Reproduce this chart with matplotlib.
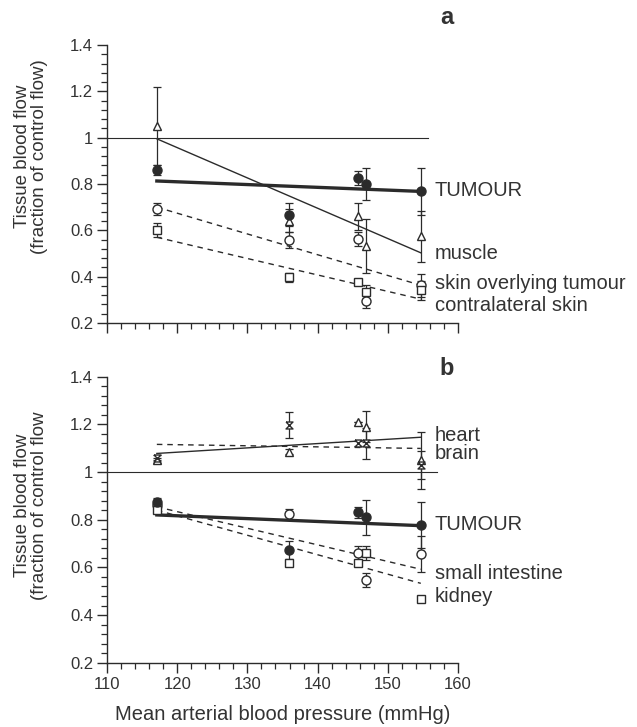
import matplotlib
matplotlib.use("Agg")
import matplotlib.pyplot as plt
from matplotlib.ticker import MultipleLocator

plt.rcParams['font.family'] = ['Liberation Sans', 'DejaVu Sans']

# ---------------- data ----------------
pressure = [117.1, 135.9, 145.75, 146.85, 154.7]

# panel a
tumour_a = [0.86, 0.668, 0.825, 0.80, 0.768]
tumour_a_err = [0.02, 0.05, 0.03, 0.07, 0.10]
muscle_a = [1.05, 0.642, 0.66, 0.532, 0.575]
muscle_a_err = [0.17, 0.05, 0.06, 0.115, 0.11]
skin_over = [0.692, 0.558, 0.564, 0.296, 0.362]
skin_over_err = [0.025, 0.035, 0.03, 0.03, 0.05]
skin_contra = [0.60, 0.397, 0.377, 0.332, 0.341]
skin_contra_err = [0.03, 0.02, 0.01, 0.03, 0.04]

fit_x = [117.1, 154.7]
fit_tumour_a = [0.813, 0.768]
fit_muscle_a = [0.995, 0.503]
fit_skin_over = [0.70, 0.363]
fit_skin_contra = [0.57, 0.303]

# panel b
heart_b = [1.05, 1.085, 1.211, 1.19, 1.05]
heart_b_err = [0.01, 0.01, 0.0, 0.065, 0.12]
brain_b = [1.06, 1.197, 1.12, 1.12, 1.03]
brain_b_err = [0.01, 0.056, 0.01, 0.065, 0.06]
tumour_b = [0.875, 0.673, 0.832, 0.81, 0.778]
tumour_b_err = [0.015, 0.036, 0.023, 0.073, 0.098]
intestine_b = [0.86, 0.825, 0.659, 0.547, 0.655]
intestine_b_err = [0.01, 0.02, 0.03, 0.03, 0.075]
kidney_b = [0.84, 0.618, 0.617, 0.659, 0.467]
kidney_b_err = [0.01, 0.01, 0.01, 0.03, 0.0]

fit_heart_b = [1.078, 1.146]
fit_brain_b = [1.116, 1.099]
fit_tumour_b = [0.82, 0.775]
fit_intestine_b = [0.854, 0.592]
fit_kidney_b = [0.84, 0.533]

ref_level = [1.0, 1.0]
ref_x_a = [110, 155.7]
ref_x_b = [110, 157]

yticks = [0.2, 0.4, 0.6, 0.8, 1.0, 1.2, 1.4]
ytick_labels = ['0.2', '0.4', '0.6', '0.8', '1', '1.2', '1.4']
xticks = [110, 120, 130, 140, 150, 160]
xtick_labels = ['110', '120', '130', '140', '150', '160']

# ---------------- drawing ----------------
INK = '#2b2b2b'
TXT = '#333333'
W, H = 637, 727
fig = plt.figure(figsize=(W / 100, H / 100), dpi=100)
fig.patch.set_facecolor('white')

ax_a = fig.add_axes([107 / W, 1 - 323 / H, 351 / W, 278 / H])
ax_b = fig.add_axes([107 / W, 1 - 662.7 / H, 351 / W, 286 / H])

hourglass = [(-1, 1), (1, 1), (-1, -1), (1, -1), (-1, 1)]

def style_axes(ax, show_xlabels):
    ax.set_xlim(110, 160)
    ax.set_ylim(0.2, 1.4)
    for s in ['top', 'right']:
        ax.spines[s].set_visible(False)
    for s in ['left', 'bottom']:
        ax.spines[s].set_color(INK)
        ax.spines[s].set_linewidth(1.0)
    ax.set_yticks(yticks)
    ax.set_yticklabels(ytick_labels)
    ax.set_xticks(xticks)
    ax.set_xticklabels(xtick_labels if show_xlabels else [])
    ax.xaxis.set_minor_locator(MultipleLocator(2))
    ax.yaxis.set_minor_locator(MultipleLocator(0.04))
    ax.tick_params(which='major', direction='out', length=7, width=1.0,
                   color=INK, labelcolor=TXT, labelsize=12, pad=3)
    ax.tick_params(which='minor', direction='out', length=4, width=0.9, color=INK)
    ax.set_facecolor('none')

def eb(ax, y, err, marker, filled, ms=6.5):
    ax.errorbar(pressure, y, yerr=err, fmt='none', ecolor=INK,
                elinewidth=0.9, capsize=3, capthick=0.9, zorder=3)
    ax.plot(pressure, y, linestyle='none', marker=marker, markersize=ms,
            markeredgecolor=INK, markeredgewidth=1.0,
            markerfacecolor=INK if filled else 'white', zorder=4)

# panel a
style_axes(ax_a, False)
ax_a.plot(ref_x_a, ref_level, color=INK, lw=0.8, zorder=2)
ax_a.plot(fit_x, fit_tumour_a, color=INK, lw=2.4, zorder=2)
ax_a.plot(fit_x, fit_muscle_a, color=INK, lw=1.0, zorder=2)
ax_a.plot(fit_x, fit_skin_over, color=INK, lw=1.0, dashes=(4, 3.5), zorder=2)
ax_a.plot(fit_x, fit_skin_contra, color=INK, lw=1.0, dashes=(4, 3.5), zorder=2)
eb(ax_a, muscle_a, muscle_a_err, '^', False, 6)
eb(ax_a, skin_over, skin_over_err, 'o', False, 6.5)
eb(ax_a, skin_contra, skin_contra_err, 's', False, 5.5)
eb(ax_a, tumour_a, tumour_a_err, 'o', True, 6.5)

lab_x = 156.7
for txt, yv in [('TUMOUR', 0.77), ('muscle', 0.50),
                ('skin overlying tumour', 0.37), ('contralateral skin', 0.277)]:
    ax_a.text(lab_x, yv, txt, fontsize=14.5, color=TXT, va='center', ha='left',
              clip_on=False)

# panel b
style_axes(ax_b, True)
ax_b.plot(ref_x_b, ref_level, color=INK, lw=0.8, zorder=2)
ax_b.plot(fit_x, fit_heart_b, color=INK, lw=1.0, zorder=2)
ax_b.plot(fit_x, fit_brain_b, color=INK, lw=1.0, dashes=(4, 3.5), zorder=2)
ax_b.plot(fit_x, fit_tumour_b, color=INK, lw=2.4, zorder=2)
ax_b.plot(fit_x, fit_intestine_b, color=INK, lw=1.0, dashes=(4, 3.5), zorder=2)
ax_b.plot(fit_x, fit_kidney_b, color=INK, lw=1.0, dashes=(4, 3.5), zorder=2)
eb(ax_b, heart_b, heart_b_err, '^', False, 5.5)
eb(ax_b, brain_b, brain_b_err, hourglass, False, 5)
eb(ax_b, intestine_b, intestine_b_err, 'o', False, 6.5)
eb(ax_b, kidney_b, kidney_b_err, 's', False, 5.5)
eb(ax_b, tumour_b, tumour_b_err, 'o', True, 6.5)

for txt, yv in [('heart', 1.155), ('brain', 1.078), ('TUMOUR', 0.778),
                ('small intestine', 0.575), ('kidney', 0.477)]:
    ax_b.text(lab_x, yv, txt, fontsize=14.5, color=TXT, va='center', ha='left',
              clip_on=False)

# axis labels
ax_a.set_ylabel('Tissue blood flow\n(fraction of control flow)', fontsize=13.5,
                color=TXT, linespacing=1.0)
ax_a.yaxis.set_label_coords(-0.168, 0.6)
ax_b.set_ylabel('Tissue blood flow\n(fraction of control flow', fontsize=13.5,
                color=TXT, linespacing=1.0)
ax_b.yaxis.set_label_coords(-0.168, 0.55)
ax_b.set_xlabel('Mean arterial blood pressure (mmHg)', fontsize=14.5,
                color=TXT, labelpad=10)

# panel letters
fig.text(447 / W, 1 - 17 / H, 'a', fontsize=17, fontweight='bold',
         color=TXT, ha='center', va='center')
fig.text(447 / W, 1 - 368 / H, 'b', fontsize=17, fontweight='bold',
         color=TXT, ha='center', va='center')

fig.savefig('out.png', dpi=100, facecolor='white')
